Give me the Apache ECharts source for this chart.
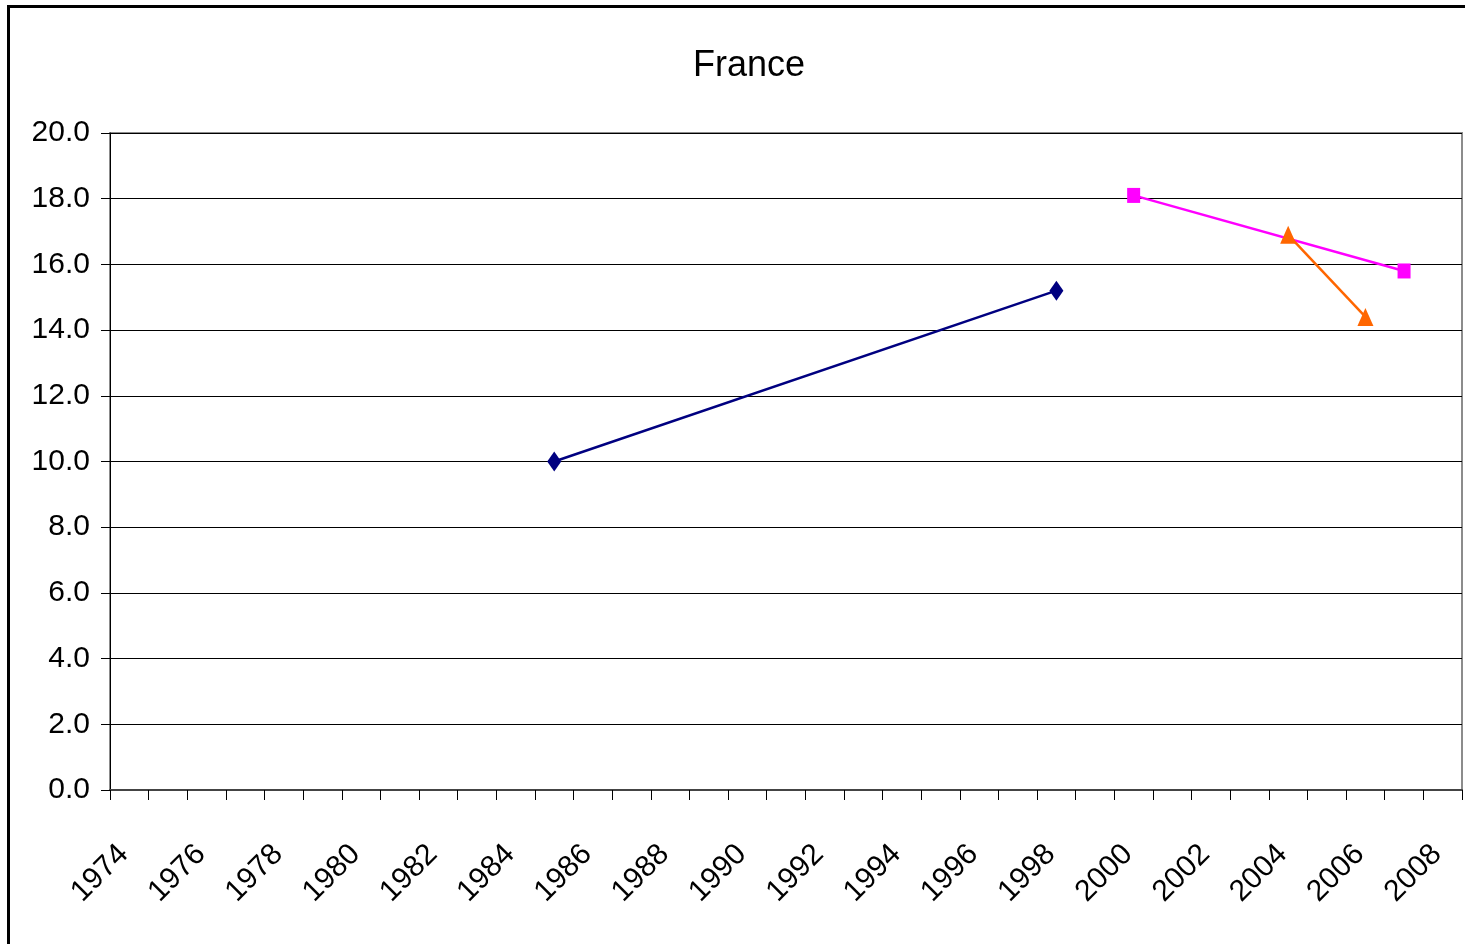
<!DOCTYPE html>
<html>
<head>
<meta charset="utf-8">
<script src="https://cdn.jsdelivr.net/npm/echarts@6/dist/echarts.min.js"></script>
<style>
  html, body { margin: 0; padding: 0; background: #fff; }
  #chart { position: absolute; left: 0; top: 0; width: 1465px; height: 944px; }
  /* outer frame of the original sheet, only top and left edges show */
  .frame {
    position: absolute; left: 7px; top: 5px; width: 1500px; height: 1000px;
    border-left: 3px solid #000; border-top: 3px solid #000;
    pointer-events: none;
  }
</style>
</head>
<body>
<div id="chart"></div>
<div class="frame"></div>
<script>
const years = ['1974', '1975', '1976', '1977', '1978', '1979', '1980', '1981', '1982',
  '1983', '1984', '1985', '1986', '1987', '1988', '1989', '1990', '1991', '1992',
  '1993', '1994', '1995', '1996', '1997', '1998', '1999', '2000', '2001', '2002',
  '2003', '2004', '2005', '2006', '2007', '2008']

// each series only has two observations
const seriesNavy = [['1985', 10.0], ['1998', 15.2]]
const seriesMagenta = [['2000', 18.1], ['2007', 15.8]]
const seriesOrange = [['2004', 16.9], ['2006', 14.4]]

const labelFont = "'Liberation Sans', Arial, sans-serif"

const chart = echarts.init(document.getElementById('chart'))

const option = {
  animation: false,
  backgroundColor: '#fff',
  title: {
    text: 'France',
    left: 688,
    top: 43,
    textStyle: {
      fontFamily: labelFont,
      fontSize: 36,
      fontWeight: 'normal',
      color: '#000',
    },
  },
  grid: {
    left: 110,
    right: 3,
    top: 133,
    bottom: 154,
    show: true,
    borderColor: '#8c8c8c',
    borderWidth: 2,
  },
  xAxis: {
    type: 'category',
    data: years,
    boundaryGap: true,
    axisLine: { lineStyle: { color: '#444', width: 2 } },
    axisTick: { show: true, interval: 0, length: 10, lineStyle: { color: '#000' } },
    axisLabel: {
      interval: 1,
      rotate: 45,
      margin: 54,
      padding: [0, 8, 0, 0],
      fontFamily: labelFont,
      fontSize: 30,
      color: '#000',
    },
    splitLine: { show: false },
  },
  yAxis: {
    type: 'value',
    min: 0,
    max: 20,
    interval: 2,
    axisLine: { show: true, lineStyle: { color: '#000', width: 1 } },
    axisTick: { show: true, length: 9, lineStyle: { color: '#000' } },
    axisLabel: {
      margin: 20,
      fontFamily: labelFont,
      fontSize: 30,
      color: '#000',
      formatter: v => v.toFixed(1),
    },
    splitLine: { show: true, lineStyle: { color: '#000', width: 1 } },
  },
  series: [
    {
      type: 'line',
      data: seriesNavy,
      symbol: 'diamond',
      symbolSize: [14, 20],
      connectNulls: true,
      itemStyle: { color: '#000080' },
      lineStyle: { color: '#000080', width: 2.5 },
    },
    {
      type: 'line',
      data: seriesMagenta,
      symbol: 'rect',
      symbolSize: [13, 15],
      connectNulls: true,
      itemStyle: { color: '#ff00ff' },
      lineStyle: { color: '#ff00ff', width: 2.5 },
    },
    {
      type: 'line',
      data: seriesOrange,
      symbol: 'triangle',
      symbolSize: [16, 18],
      connectNulls: true,
      itemStyle: { color: '#ff6600' },
      lineStyle: { color: '#ff6600', width: 2.5 },
    },
  ],
}

chart.setOption(option)
</script>
</body>
</html>
